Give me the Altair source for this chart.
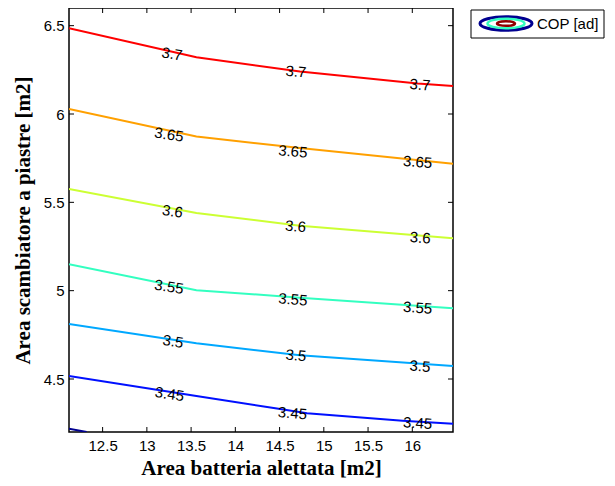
import altair as alt
import pandas as pd

# ---- data ----
levels = [3.4, 3.45, 3.5, 3.55, 3.6, 3.65, 3.7]
level_colors = ["#000090", "#0010ff", "#00a8ff", "#33ffc0", "#ccff33", "#ffa000", "#ff0000"]

line_x = {
    3.4: [12.12, 12.32],
    3.45: [12.12, 13.56, 14.47, 14.81, 15.89, 16.46],
    3.5: [12.12, 13.56, 14.73, 16.46],
    3.55: [12.12, 13.56, 14.73, 16.46],
    3.6: [12.12, 13.56, 14.73, 16.46],
    3.65: [12.12, 13.56, 14.73, 16.46],
    3.7: [12.12, 13.56, 14.73, 16.06, 16.46],
}
line_y = {
    3.4: [4.219, 4.2],
    3.45: [4.517, 4.404, 4.333, 4.306, 4.263, 4.246],
    3.5: [4.811, 4.702, 4.634, 4.573],
    3.55: [5.15, 5.003, 4.96, 4.9],
    3.6: [5.576, 5.44, 5.368, 5.297],
    3.65: [6.028, 5.873, 5.807, 5.719],
    3.7: [6.485, 6.321, 6.24, 6.172, 6.159],
}

label_levels = [3.45, 3.5, 3.55, 3.6, 3.65, 3.7]
label_x = {
    3.45: [13.256, 14.645, 16.06],
    3.5: [13.295, 14.685, 16.086],
    3.55: [13.25, 14.65, 16.06],
    3.6: [13.29, 14.68, 16.09],
    3.65: [13.25, 14.65, 16.06],
    3.7: [13.284, 14.685, 16.086],
}
label_y = {
    3.45: [4.414, 4.306, 4.25],
    3.5: [4.713, 4.634, 4.572],
    3.55: [5.022, 4.95, 4.903],
    3.6: [5.449, 5.364, 5.299],
    3.65: [5.883, 5.788, 5.728],
    3.7: [6.34, 6.24, 6.165],
}
label_angles = [9, 5, 4]

x_ticks = [12.5, 13, 13.5, 14, 14.5, 15, 15.5, 16]
y_ticks = [4.5, 5, 5.5, 6, 6.5]
x_domain = [12.12, 16.46]
y_domain = [4.2, 6.6]

x_title = "Area batteria alettata [m2]"
y_title = "Area scambiatore a piastre [m2]"
legend_label = "COP [ad]"

# ---- build tables ----
rows = []
for lv in levels:
    for i, (xv, yv) in enumerate(zip(line_x[lv], line_y[lv])):
        rows.append({"level": str(lv), "x": xv, "y": yv, "ord": i})
df_lines = pd.DataFrame(rows)

lrows = []
for lv in label_levels:
    for i, (xv, yv) in enumerate(zip(label_x[lv], label_y[lv])):
        lrows.append({"x": xv, "y": yv, "txt": f"{lv:g}", "ang": label_angles[i]})
df_labels = pd.DataFrame(lrows)

df_xt = pd.DataFrame({"x": x_ticks})
df_yt = pd.DataFrame({"y": y_ticks})

W, H = 384, 424
xs = alt.Scale(domain=x_domain, nice=False, zero=False)
ys = alt.Scale(domain=y_domain, nice=False, zero=False)

axis_common = dict(
    labelFont="Liberation Sans", labelFontSize=15, labelColor="black",
    titleFont="Liberation Serif", titleFontSize=21, titleFontWeight="bold", titleColor="black",
    tickSize=0, domain=False, grid=False, format="~g",
)
X = alt.X("x:Q", scale=xs, axis=alt.Axis(values=x_ticks, title=x_title, labelPadding=6,
                                          titlePadding=4, **axis_common))
Y = alt.Y("y:Q", scale=ys, axis=alt.Axis(values=y_ticks, title=y_title, labelPadding=5,
                                          titlePadding=10, **axis_common))

lines = alt.Chart(df_lines).mark_line(clip=True, strokeWidth=2).encode(
    x=X, y=Y,
    color=alt.Color("level:N", scale=alt.Scale(domain=[str(l) for l in levels], range=level_colors),
                    legend=None),
    detail="level:N",
    order="ord:Q",
)

labels = alt.Chart(df_labels).mark_text(font="Liberation Sans", fontSize=15, color="black").encode(
    x=X, y=Y,
    text="txt:N",
    angle=alt.Angle("ang:Q", scale=None),
)

tick_len = 5
xt_bottom = alt.Chart(df_xt).mark_rule(color="black").encode(
    x=X, y=alt.value(H), y2=alt.value(H - tick_len))
xt_top = alt.Chart(df_xt).mark_rule(color="black").encode(
    x=X, y=alt.value(0), y2=alt.value(tick_len))
yt_left = alt.Chart(df_yt).mark_rule(color="black").encode(
    y=Y, x=alt.value(0), x2=alt.value(tick_len))
yt_right = alt.Chart(df_yt).mark_rule(color="black").encode(
    y=Y, x=alt.value(W), x2=alt.value(W - tick_len))

# ---- legend box (outside plot) ----
one = pd.DataFrame({"a": [0]})
leg_box = alt.Chart(one).mark_rect(fill="white", stroke="black", strokeWidth=1).encode(
    x=alt.value(402), x2=alt.value(535), y=alt.value(2), y2=alt.value(30))
ell = "M -1 0 A 1 0.26 0 1 1 1 0 A 1 0.26 0 1 1 -1 0 Z"
leg_outer = alt.Chart(one).mark_point(
    shape=ell, filled=False, stroke="#000090", strokeWidth=3, size=52 * 52, opacity=1).encode(
    x=alt.value(437), y=alt.value(15.5))
leg_mid = alt.Chart(one).mark_point(
    shape=ell, filled=False, stroke="#33ffc0", strokeWidth=2.5, size=37 * 37, opacity=1).encode(
    x=alt.value(437), y=alt.value(15.5))
leg_inner = alt.Chart(one).mark_point(
    shape=ell, filled=False, stroke="#900000", strokeWidth=2.5, size=18 * 18, opacity=1).encode(
    x=alt.value(437), y=alt.value(15.5))
leg_text = alt.Chart(one).mark_text(
    text=legend_label, font="Liberation Sans", fontSize=15, align="left", baseline="middle",
    color="black").encode(x=alt.value(468), y=alt.value(16))

chart = alt.layer(
    lines, labels, xt_bottom, xt_top, yt_left, yt_right,
    leg_box, leg_outer, leg_mid, leg_inner, leg_text,
).properties(
    width=W, height=H,
    autosize=alt.AutoSizeParams(type="none"),
    padding={"left": 61, "top": 0, "right": 152, "bottom": 46},
    background="white",
).configure_view(stroke="black", strokeWidth=1.5)

chart.save("out.html", embed_options={"renderer": "svg", "actions": False})
